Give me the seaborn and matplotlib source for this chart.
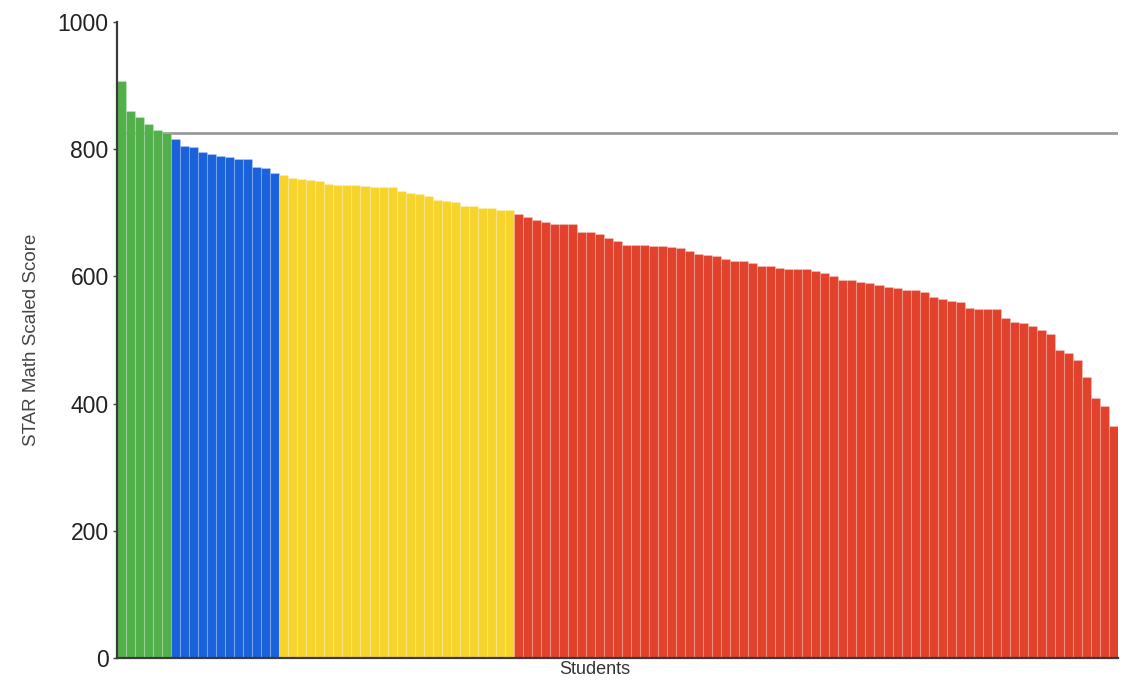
import pandas as pd
import numpy as np
import matplotlib
matplotlib.use("Agg")
import matplotlib.pyplot as plt
import seaborn as sns

# scores, sorted high to low, one list per band
green_scores = [907, 860, 851, 840, 830, 825]
blue_scores = [816, 805, 804, 795, 793, 790, 788, 785, 784, 772, 771, 763]
yellow_scores = [759, 754, 753, 752, 750, 745, 743, 743, 743, 742, 741, 740, 740,
                 734, 731, 730, 726, 720, 718, 717, 711, 710, 708, 707, 705, 704]
red_scores = [698, 694, 689, 686, 682, 682, 682, 670, 670, 666, 660, 656, 650, 649,
              649, 648, 648, 646, 644, 640, 635, 633, 632, 627, 624, 624, 621, 617,
              616, 613, 612, 611, 611, 609, 605, 600, 595, 595, 591, 589, 586, 583,
              581, 579, 578, 575, 567, 564, 562, 560, 550, 549, 549, 549, 535, 529,
              526, 522, 515, 509, 484, 480, 469, 442, 409, 396, 364]
benchmark = 826

BAND_COLORS = {
    "green": "#52b04a",
    "blue": "#1a62dc",
    "yellow": "#f7d42c",
    "red": "#e2412c",
}

scores = green_scores + blue_scores + yellow_scores + red_scores
bands = (["green"] * len(green_scores) + ["blue"] * len(blue_scores)
         + ["yellow"] * len(yellow_scores) + ["red"] * len(red_scores))
data = pd.DataFrame({"student": np.arange(len(scores)), "score": scores, "band": bands})

sns.set_style("white")
plt.rcParams['font.family'] = ['Liberation Sans', 'DejaVu Sans']

fig = plt.figure(figsize=(11.22, 6.83), dpi=100)
ax = fig.add_axes([0.1043, 0.0366, 0.8921, 0.9312])

sns.barplot(data=data, x="student", y="score", hue="band", palette=BAND_COLORS,
            dodge=False, width=1.0, legend=False, ax=ax, saturation=1,
            edgecolor=(1, 1, 1, 0.18), linewidth=0.8, zorder=2)

# benchmark line sits behind the bars
ax.axhline(benchmark, color="#9a9a9a", lw=2, zorder=0)

ax.set_ylim(0, 1000)
ax.set_xlim(-0.5, len(scores) - 0.5)
ax.set_yticks([0, 200, 400, 600, 800, 1000])
ax.set_xticks([])
ax.tick_params(axis="y", labelsize=16.5, labelcolor="#222222", length=3,
               width=1, color="#444444", left=True, pad=3)

for side in ["top", "right"]:
    ax.spines[side].set_visible(False)
for side in ["left", "bottom"]:
    ax.spines[side].set_color("#3a3a3a")
    ax.spines[side].set_linewidth(1.6)
    ax.spines[side].set_zorder(3)

ax.set_ylabel("STAR Math Scaled Score", fontsize=13.5, color="#444444", labelpad=13)
ax.set_xlabel("Students", fontsize=13, color="#333333")
ax.xaxis.set_label_coords(0.4775, -0.004)

fig.savefig("out.png", dpi=100)
